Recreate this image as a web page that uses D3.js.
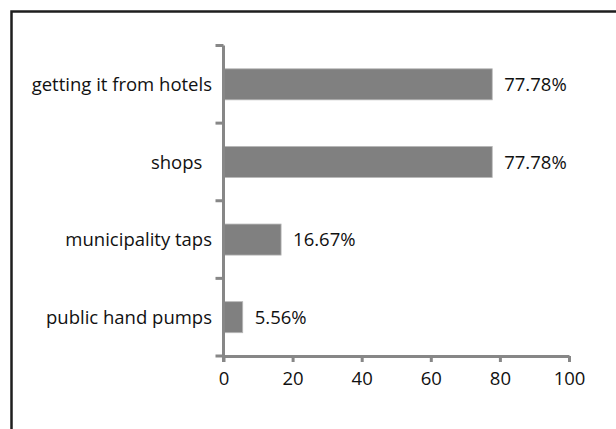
<!DOCTYPE html>
<html>
<head>
<meta charset="utf-8">
<script src="https://cdn.jsdelivr.net/npm/d3@7/dist/d3.min.js"></script>
<style>
  html, body { margin: 0; padding: 0; background: #fff; }
  svg { display: block; }
  text { font-family: "Open Sans", Lato, sans-serif; fill: #111; }
</style>
</head>
<body>
<svg id="chart" width="616" height="429"></svg>
<script>
// Water sources (percent of respondents)
const categories = ["getting it from hotels", "shops  ", "municipality taps", "public hand pumps"];
const values = [77.78, 77.78, 16.67, 5.56];
const valueLabels = ["77.78%", "77.78%", "16.67%", "5.56%"];
const xTicks = [0, 20, 40, 60, 80, 100];

const svg = d3.select("#chart");
const axisColor = "#878787";
const fontSize = 18.5;
const fontFamily = "'Open Sans', Lato, sans-serif";

// outer frame (runs off the right and bottom edges)
svg.append("rect")
  .attr("x", 11.5).attr("y", 11.5)
  .attr("width", 640).attr("height", 460)
  .attr("fill", "none").attr("stroke", "#1e1e1e").attr("stroke-width", 2.5);

const x = d3.scaleLinear().domain([0, 100]).range([223.5, 569]);
const y = d3.scaleBand().domain(categories).range([45.5, 356])
  .paddingInner(0.6).paddingOuter(0.3);

const step = y.step();

// bars
svg.append("g").selectAll("rect")
  .data(categories)
  .join("rect")
  .attr("x", x(0))
  .attr("y", d => y(d))
  .attr("width", (d, i) => x(values[i]) - x(0))
  .attr("height", y.bandwidth())
  .attr("fill", "#808080")
  .attr("stroke", "#b8b8b8")
  .attr("stroke-width", 0.8);

// value labels
svg.append("g").selectAll("text")
  .data(categories)
  .join("text")
  .attr("x", (d, i) => x(values[i]) + 12)
  .attr("y", d => y(d) + y.bandwidth() / 2)
  .attr("dy", "0.36em")
  .attr("font-size", fontSize)
  .text((d, i) => valueLabels[i]);

// category labels
svg.append("g").selectAll("text")
  .data(categories)
  .join("text")
  .attr("x", 212)
  .attr("y", d => y(d) + y.bandwidth() / 2)
  .attr("dy", "0.36em")
  .attr("text-anchor", "end")
  .attr("font-size", fontSize)
  .style("white-space", "pre")
  .text(d => d);

// y axis: line plus ticks between categories
const yAxisG = svg.append("g").attr("stroke", axisColor).attr("stroke-width", 3);
yAxisG.append("line")
  .attr("x1", x(0)).attr("x2", x(0))
  .attr("y1", y.range()[0]).attr("y2", y.range()[1] + 6);
const boundaries = categories.map(d => y(d) - step * 0.3).concat([y.range()[1]]);
yAxisG.selectAll("line.tick")
  .data(boundaries)
  .join("line")
  .attr("class", "tick")
  .attr("x1", x(0) - 8).attr("x2", x(0))
  .attr("y1", d => d).attr("y2", d => d);

// x axis
const xAxis = d3.axisBottom(x).tickValues(xTicks).tickSize(6).tickSizeOuter(0).tickPadding(10);
const xg = svg.append("g")
  .attr("transform", `translate(0,${y.range()[1]})`)
  .call(xAxis);
xg.select(".domain").attr("stroke", axisColor).attr("stroke-width", 3);
xg.selectAll(".tick line").attr("stroke", axisColor).attr("stroke-width", 3);
xg.selectAll(".tick text")
  .attr("font-size", fontSize)
  .attr("font-family", fontFamily)
  .attr("fill", "#111");
</script>
</body>
</html>
